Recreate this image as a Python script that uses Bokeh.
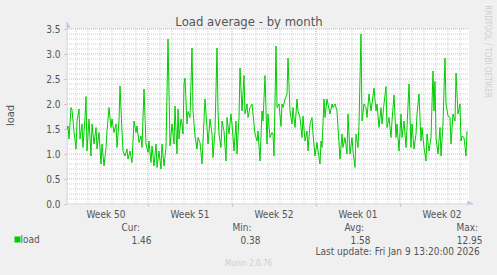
import math
from bokeh.plotting import figure
from bokeh.models import FixedTicker, Range1d
from bokeh.layouts import column, row
from bokeh.core.properties import value
from bokeh.embed import file_html
from bokeh.resources import INLINE

# ---- data (hours since start of graph, load average) ----
hours = [0, 2, 4, 8, 10, 14, 18, 20, 24, 26,
         30, 32, 36, 38, 40, 44, 48, 50, 54, 58,
         60, 64, 68, 70, 74, 78, 80, 84, 88, 90,
         94, 98, 100, 104, 106, 110, 112, 116, 120, 122,
         126, 130, 132, 134, 138, 140, 144, 148, 150, 154,
         158, 162, 164, 168, 170, 174, 178, 180, 184, 188,
         190, 194, 198, 202, 206, 210, 214, 216, 220, 222,
         224, 228, 230, 232, 234, 236, 240, 242, 246, 250,
         252, 256, 260, 262, 266, 270, 272, 276, 280, 282,
         286, 290, 292, 296, 300, 302, 304, 308, 310, 314,
         318, 320, 324, 328, 330, 334, 338, 340, 344, 346,
         350, 354, 356, 360, 362, 366, 370, 372, 376, 380,
         382, 386, 390, 392, 396, 400, 402, 406, 410, 412,
         414, 418, 420, 424, 428, 430, 432, 436, 440, 442,
         446, 450, 452, 456, 460, 462, 466, 470, 472, 476,
         480, 482, 486, 490, 492, 496, 500, 502, 506, 508,
         510, 514, 516, 520, 522, 526, 530, 532, 536, 540,
         542, 546, 550, 552, 556, 560, 562, 566, 570, 572,
         576, 578, 582, 584, 588, 590, 594, 598, 600, 604,
         608, 610, 614, 618, 620, 624, 628, 630, 634, 638,
         640, 644, 648, 650, 654, 658, 660, 664, 668, 670,
         674, 678, 680, 684, 688, 690, 694, 698, 700, 704,
         708, 710, 714, 718, 720, 724, 728, 732, 734, 736,
         738, 742, 746, 748, 752, 756, 758, 762, 766, 768,
         772, 776, 778, 782, 786, 788, 790, 794, 798, 800]
load = [1.50, 1.56, 1.30, 1.93, 1.88, 1.45, 1.10, 1.65, 1.90, 1.30,
        1.60, 1.13, 1.73, 2.15, 1.06, 1.70, 0.96, 1.60, 1.20, 1.53,
        1.10, 1.43, 0.80, 1.20, 0.76, 1.13, 1.46, 1.93, 1.53, 1.70,
        1.43, 1.60, 1.13, 1.66, 2.36, 1.46, 1.06, 0.96, 1.10, 0.90,
        1.06, 0.83, 1.26, 1.66, 1.43, 1.56, 1.23, 1.36, 1.13, 2.30,
        1.20, 1.03, 1.26, 0.83, 1.16, 0.76, 1.20, 0.73, 1.06, 0.70,
        1.20, 0.76, 1.14, 3.30, 1.16, 1.60, 1.20, 1.96, 1.00, 1.90,
        1.30, 1.70, 1.60, 1.40, 2.40, 2.52, 1.60, 1.85, 1.73, 3.12,
        1.86, 1.36, 1.10, 1.33, 1.23, 0.80, 1.26, 2.10, 1.53, 1.20,
        1.70, 1.40, 0.93, 1.46, 3.12, 1.86, 1.40, 1.13, 1.66, 1.46,
        0.86, 1.73, 1.40, 1.80, 1.60, 1.06, 1.66, 1.00, 1.73, 2.72,
        1.86, 2.57, 1.80, 2.00, 1.73, 1.93, 2.00, 1.80, 1.40, 1.26,
        1.46, 0.86, 1.86, 1.66, 2.57, 1.20, 1.80, 1.33, 1.43, 1.40,
        0.96, 3.16, 1.93, 2.00, 1.55, 2.00, 1.93, 2.10, 2.20, 2.92,
        1.86, 1.60, 1.93, 1.53, 2.10, 1.86, 1.73, 1.33, 1.76, 1.26,
        1.46, 1.06, 1.60, 1.73, 1.40, 0.96, 1.23, 1.06, 0.80, 1.26,
        1.13, 2.10, 1.73, 2.10, 2.00, 1.80, 2.00, 1.93, 2.00, 1.86,
        1.53, 0.90, 1.40, 1.13, 1.33, 1.00, 1.80, 1.00, 1.33, 1.06,
        0.73, 1.40, 1.13, 1.60, 3.40, 1.66, 2.00, 1.93, 1.73, 2.20,
        1.86, 2.00, 2.32, 1.86, 2.00, 1.53, 1.93, 1.60, 2.00, 2.35,
        1.53, 1.73, 1.33, 1.66, 2.18, 1.33, 1.60, 1.06, 1.80, 1.33,
        1.66, 1.13, 1.53, 2.40, 1.13, 1.60, 1.10, 1.40, 1.80, 2.20,
        1.26, 1.53, 1.13, 0.86, 1.40, 1.06, 1.33, 2.66, 1.86, 2.45,
        1.33, 1.00, 1.53, 0.96, 1.60, 2.92, 2.00, 1.76, 1.73, 1.20,
        1.80, 1.66, 2.62, 1.80, 2.00, 1.26, 1.36, 1.33, 0.96, 1.46]

week_labels = ["Week 50", "Week 51", "Week 52", "Week 01", "Week 02"]
week_start_hours = [162, 330, 498, 666]
y_ticks = [0.0, 0.5, 1.0, 1.5, 2.0, 2.5, 3.0, 3.5]
series_name = "load"
stat_names = ["Cur:", "Min:", "Avg:", "Max:"]
stat_values = ["1.46", "0.38", "1.58", "12.95"]
title_text = "Load average - by month"
last_update = "Last update: Fri Jan  9 13:20:00 2026"
footer_text = "Munin 2.0.76"
side_text = "RRDTOOL / TOBI OETIKER"

# ---- styling ----
FONT = "DejaVu Sans Condensed"
TXT = "#555555"
FAINT = "#CFCFCF"
BG = "#F0F0F0"
AXIS = "#C4C8EE"
GRID_MINOR = "#CFCFCF"
GRID_MAJOR = "#E4A8A8"
LINE = "#00CC00"

days = [h / 24.0 for h in hours]
span_days = 33.5
y_top = 3.5
week_starts = [h / 24.0 for h in week_start_hours]
week_mids = [w - 3.5 for w in week_starts] + [week_starts[-1] + 3.5]

W = 497
STRIP = 22                 # left strip holding the vertical axis title
MAIN_W = W - STRIP
MAIN_H = 222
LEG_H = 275 - MAIN_H
FRAME_LEFT = 66            # absolute x of the plot frame
LEFT, RIGHT, TOP, BOTTOM = FRAME_LEFT - STRIP, 0, 5, 18
PXD = 12.0     # pixels per day
PXU = 50.0     # pixels per load unit
x0 = -0.5 / PXD
y1 = 3.5 + (28.5 - TOP) / PXU
fw = MAIN_W - LEFT - RIGHT
fh = MAIN_H - TOP - BOTTOM

p = figure(width=MAIN_W, height=MAIN_H, output_backend="svg", toolbar_location=None,
           x_range=Range1d(x0, x0 + fw / PXD), y_range=Range1d(y1 - fh / PXU, y1),
           min_border_left=LEFT, min_border_right=RIGHT,
           min_border_top=TOP, min_border_bottom=BOTTOM,
           background_fill_color=BG, border_fill_color=BG, outline_line_color=None)
p.frame_align = False
p.xgrid.visible = False
p.ygrid.visible = False


def vx(px):
    return x0 + (px - FRAME_LEFT) / PXD


def vy(py):
    return y1 - (py - TOP) / PXU


# white data area
p.quad(left=[0], right=[span_days], bottom=[0], top=[y_top], fill_color="white", line_color=None)

# grid lines
hy = [round(0.1 * i, 1) for i in range(1, int(round(y_top / 0.1)) + 1)]
hy_minor = [v for v in hy if v not in y_ticks]
hy_major = [v for v in hy if v in y_ticks]
day_lines = []
d = week_starts[0] - math.floor(week_starts[0])
while d <= span_days:
    day_lines.append(d)
    d += 1.0
vx_minor = [v for v in day_lines if all(abs(v - w) > 1e-6 for w in week_starts)]
p.segment(x0=[0] * len(hy_minor), x1=[span_days] * len(hy_minor), y0=hy_minor, y1=hy_minor,
          line_color=GRID_MINOR, line_width=1, line_dash="1 1")
p.segment(x0=vx_minor, x1=vx_minor, y0=[0] * len(vx_minor), y1=[y_top] * len(vx_minor),
          line_color=GRID_MINOR, line_width=1, line_dash="1 1")
p.segment(x0=[0] * len(hy_major), x1=[span_days] * len(hy_major), y0=hy_major, y1=hy_major,
          line_color=GRID_MAJOR, line_width=1, line_dash="1 1")
p.segment(x0=week_starts, x1=week_starts, y0=[0] * len(week_starts), y1=[y_top] * len(week_starts),
          line_color=GRID_MAJOR, line_width=1, line_dash="1 1")

# axis lines with arrows
p.segment(x0=[0, 0], y0=[0, 0], x1=[0, vx(470)], y1=[vy(24), 0], line_color=AXIS, line_width=1)
p.scatter([0], [vy(25)], marker="triangle", size=6, fill_color=AXIS, line_color=AXIS)
p.scatter([vx(469)], [0], marker="triangle", size=6, angle=-math.pi / 2,
          fill_color=AXIS, line_color=AXIS)

# data line
p.line(days, load, line_color=LINE, line_width=1)

# title and side text
p.text(x=[vx(248.5)], y=[vy(21)], text=[title_text], text_align="center",
       text_baseline="middle", text_font=value(FONT), text_font_size="13px", text_color=TXT)
p.text(x=[vx(487)], y=[vy(51)], text=[side_text], text_align="center",
       text_baseline="middle", text_font=value(FONT), text_font_size="8px",
       text_color=FAINT, angle=-math.pi / 2)

# axes
for ax in (p.xaxis[0], p.yaxis[0]):
    ax.axis_line_color = None
    ax.major_label_text_font = FONT
    ax.major_label_text_font_size = "10px"
    ax.major_label_text_color = TXT

p.yaxis.ticker = FixedTicker(ticks=y_ticks, minor_ticks=[])
p.yaxis.major_label_overrides = {t: f"{t:.1f}" for t in y_ticks}
p.yaxis.major_tick_line_color = GRID_MAJOR
p.yaxis.major_tick_in = 0
p.yaxis.major_tick_out = 2
p.yaxis.major_label_standoff = 4

p.xaxis.ticker = FixedTicker(ticks=week_mids, minor_ticks=week_starts)
p.xaxis.major_label_overrides = {t: lab for t, lab in zip(week_mids, week_labels)}
p.xaxis.major_tick_line_color = None
p.xaxis.major_tick_out = 0
p.xaxis.minor_tick_line_color = GRID_MAJOR
p.xaxis.minor_tick_in = 0
p.xaxis.minor_tick_out = 2
p.xaxis.major_label_standoff = 2

# ---- left strip with the vertical axis title ----
s = figure(width=STRIP, height=MAIN_H, output_backend="svg", toolbar_location=None,
           x_range=Range1d(0, STRIP), y_range=Range1d(MAIN_H, 0),
           min_border=0, x_axis_type=None, y_axis_type=None,
           background_fill_color=BG, border_fill_color=BG, outline_line_color=None)
s.frame_align = False
s.xgrid.visible = False
s.ygrid.visible = False
s.text(x=[10], y=[115], text=[series_name], text_align="center", text_baseline="middle",
       text_font=value(FONT), text_font_size="11px", text_color=TXT, angle=math.pi / 2)

# ---- legend / footer strip ----
q = figure(width=W, height=LEG_H, output_backend="svg", toolbar_location=None,
           x_range=Range1d(0, W), y_range=Range1d(LEG_H, 0),
           min_border=0, x_axis_type=None, y_axis_type=None,
           background_fill_color=BG, border_fill_color=BG, outline_line_color=None)
q.frame_align = False
q.xgrid.visible = False
q.ygrid.visible = False


def ly(py):
    return py - MAIN_H


q.quad(left=[14], right=[20], top=[ly(236)], bottom=[ly(242)], fill_color=LINE, line_color=None)
q.text(x=[20], y=[ly(239)], text=[series_name], text_baseline="middle",
       text_font=value(FONT), text_font_size="10px", text_color=TXT)
name_x = [121, 232, 344, 456]
value_x = [151, 260, 370, 482]
q.text(x=name_x, y=[ly(227)] * 4, text=stat_names, text_baseline="middle",
       text_font=value(FONT), text_font_size="10px", text_color=TXT)
q.text(x=value_x, y=[ly(239)] * 4, text=stat_values, text_align="right", text_baseline="middle",
       text_font=value(FONT), text_font_size="10px", text_color=TXT)
q.text(x=[482], y=[ly(251)], text=[last_update], text_align="right", text_baseline="middle",
       text_font=value(FONT), text_font_size="10px", text_color=TXT)
q.text(x=[248], y=[ly(263)], text=[footer_text], text_align="center", text_baseline="middle",
       text_font=value(FONT), text_font_size="8px", text_color=FAINT)

top_row = row(s, p, spacing=0, styles={"background-color": BG})
layout = column(top_row, q, spacing=0, styles={"background-color": BG})
open("out.html", "w").write(file_html(layout, INLINE))
